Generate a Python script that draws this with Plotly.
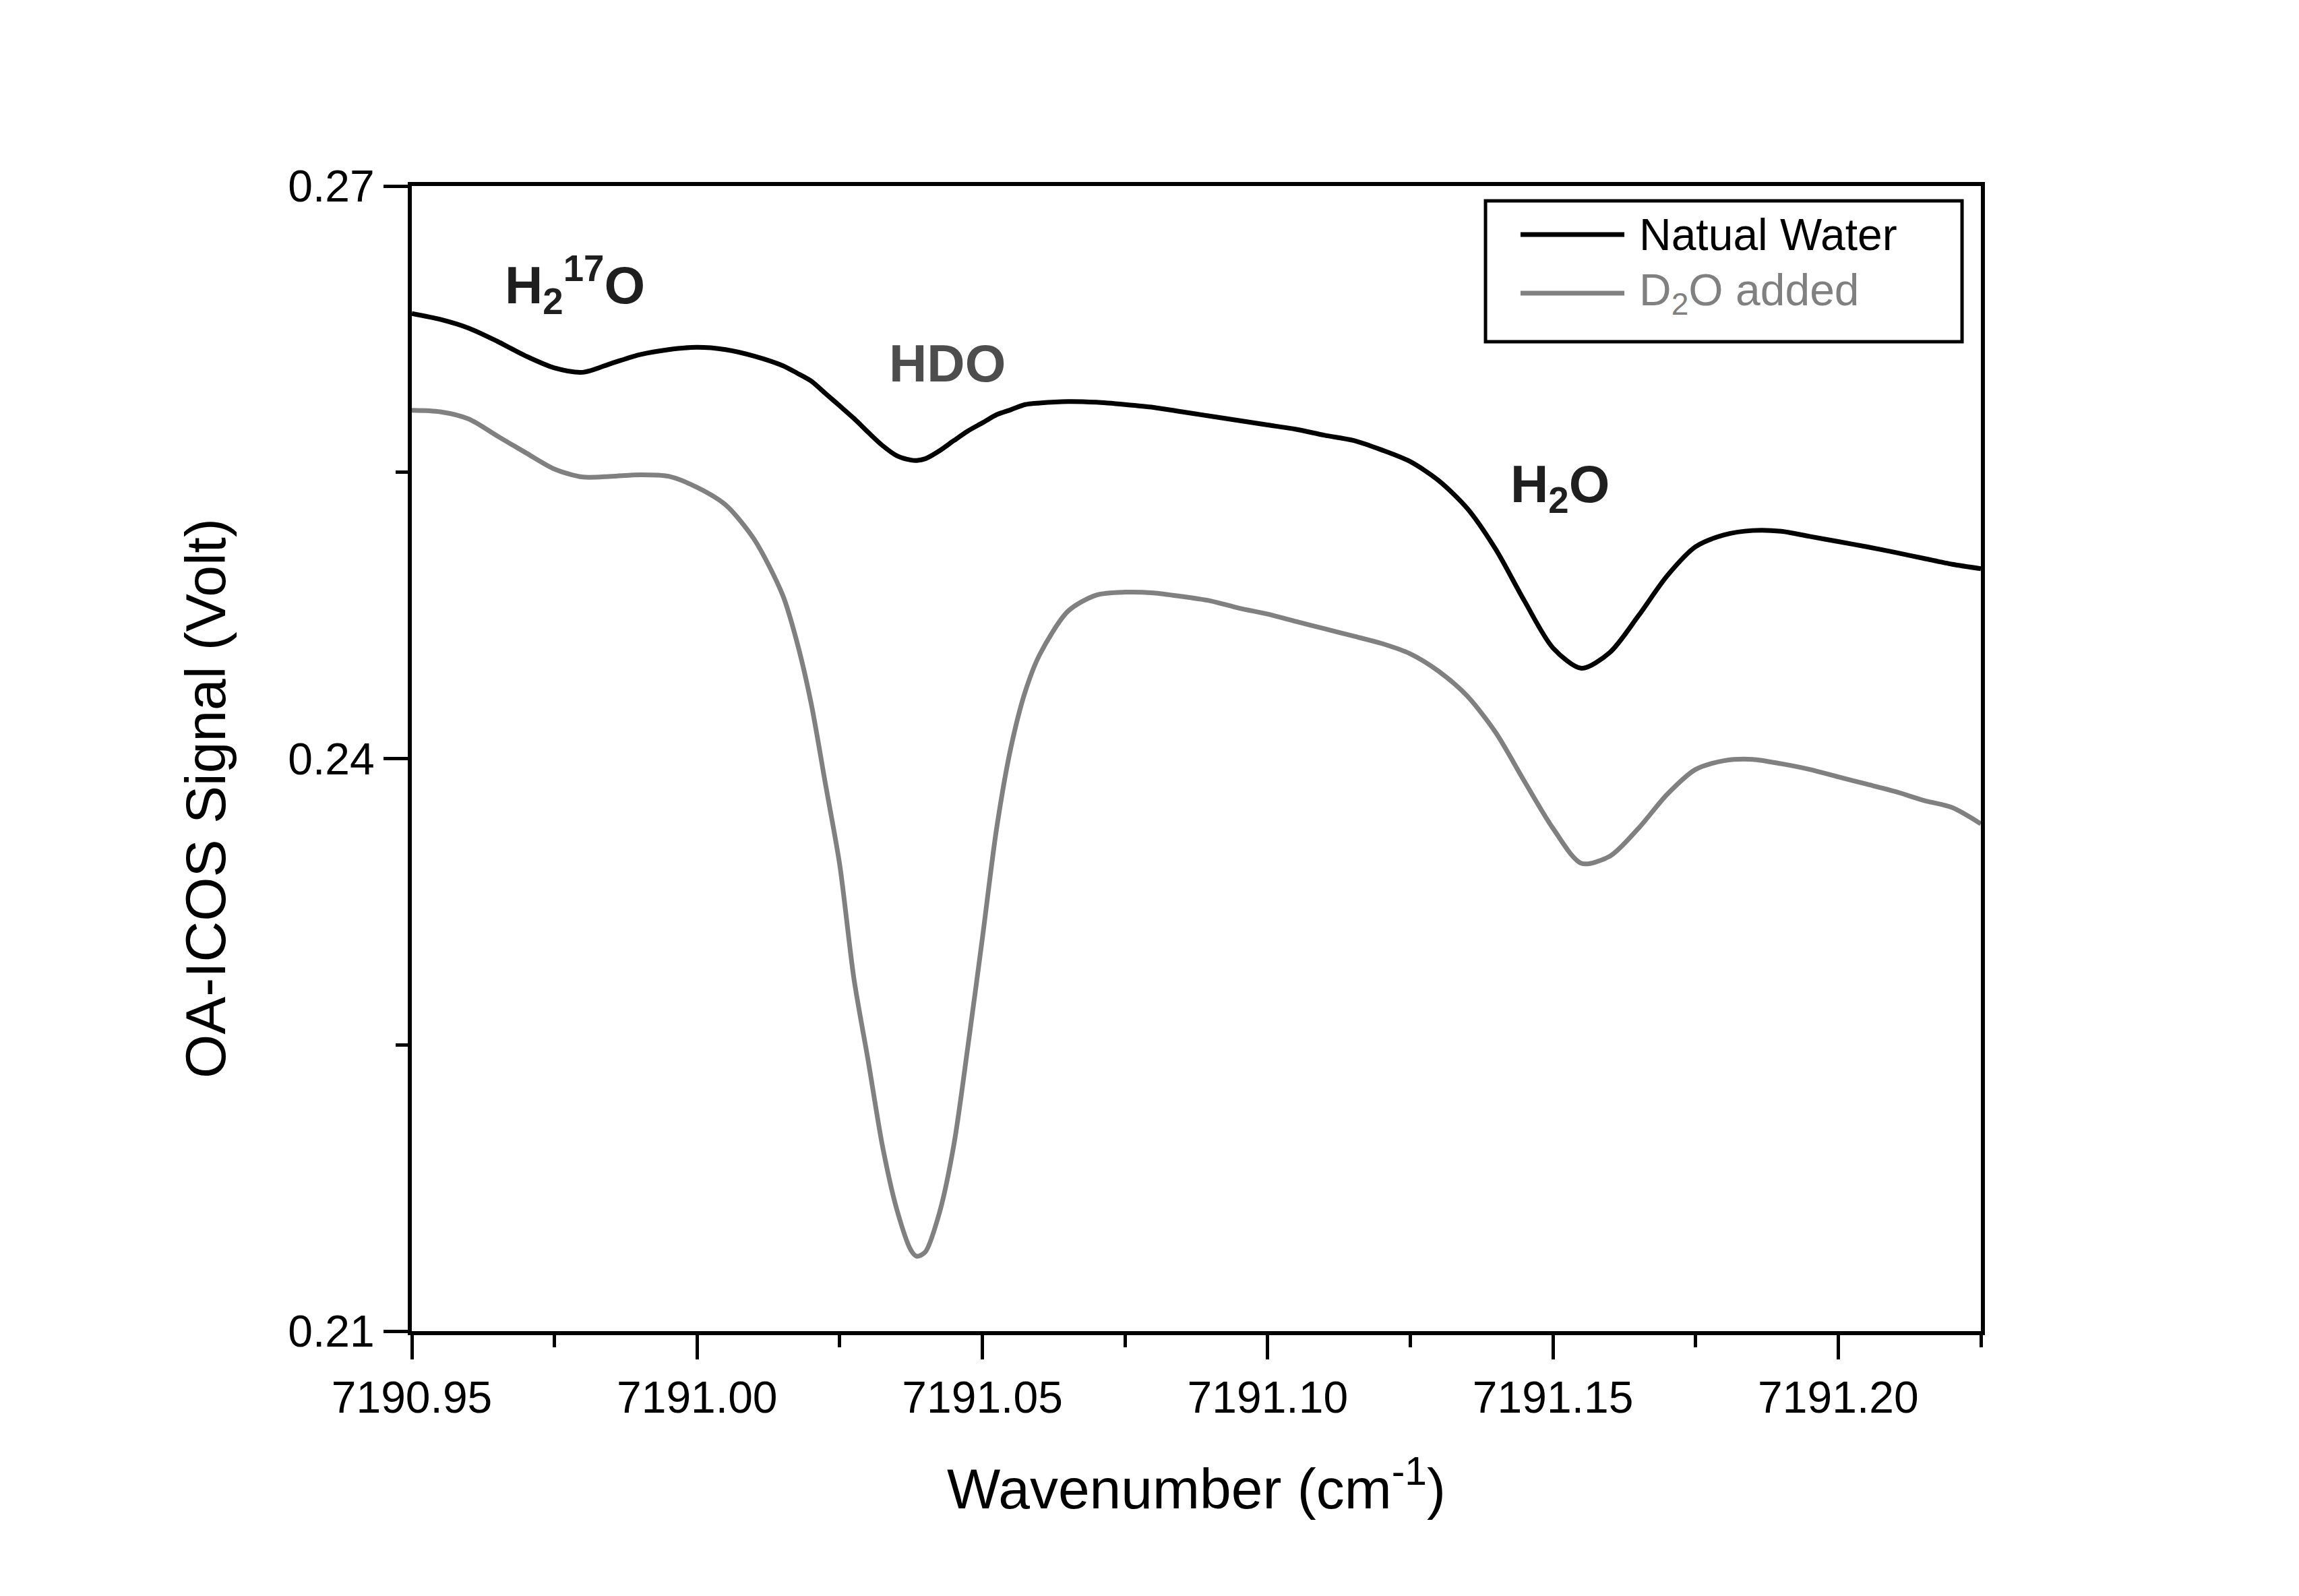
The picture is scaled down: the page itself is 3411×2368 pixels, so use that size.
import plotly.graph_objects as go

# Wavenumber grid (cm^-1)
wavenumber = [
    7190.950, 7190.955, 7190.960, 7190.965, 7190.970, 7190.975, 7190.980, 7190.985,
    7190.990, 7190.995, 7191.000, 7191.005, 7191.010, 7191.015, 7191.0175, 7191.020,
    7191.0225, 7191.025, 7191.0275, 7191.030, 7191.0325, 7191.035, 7191.0375, 7191.0385,
    7191.040, 7191.0425, 7191.045, 7191.0475, 7191.050, 7191.0525, 7191.055, 7191.0575,
    7191.060, 7191.065, 7191.070, 7191.075, 7191.080, 7191.085, 7191.090, 7191.095,
    7191.100, 7191.105, 7191.110, 7191.115, 7191.120, 7191.125, 7191.130, 7191.135,
    7191.140, 7191.145, 7191.150, 7191.155, 7191.160, 7191.165, 7191.170, 7191.175,
    7191.180, 7191.185, 7191.190, 7191.195, 7191.200, 7191.205, 7191.210, 7191.215,
    7191.220, 7191.225,
]

# Natural water signal (Volt)
natural_water = [
    0.26332, 0.26301, 0.26255, 0.26186, 0.26109, 0.26047, 0.26024, 0.26071,
    0.26117, 0.26143, 0.26155, 0.26143, 0.26109, 0.26059, 0.26020, 0.25978,
    0.25913, 0.25848, 0.25782, 0.25709, 0.25640, 0.25587, 0.25564, 0.25562,
    0.25571, 0.25613, 0.25666, 0.25717, 0.25759, 0.25802, 0.25828, 0.25855,
    0.25863, 0.25871, 0.25867, 0.25855, 0.25840, 0.25817, 0.25794, 0.25771,
    0.25748, 0.25725, 0.25694, 0.25667, 0.25617, 0.25556, 0.25456, 0.25310,
    0.25095, 0.24826, 0.24580, 0.24473, 0.24557, 0.24749, 0.24957, 0.25110,
    0.25172, 0.25195, 0.25191, 0.25164, 0.25137, 0.25110, 0.25080, 0.25049,
    0.25018, 0.24995,
]

# D2O added signal (Volt)
d2o_added = [
    0.25825, 0.25817, 0.25779, 0.25690, 0.25602, 0.25517, 0.25475, 0.25479,
    0.25487, 0.25479, 0.25421, 0.25329, 0.25149, 0.24857, 0.24611, 0.24288,
    0.23866, 0.23443, 0.22844, 0.22414, 0.21968, 0.21638, 0.21423, 0.21392,
    0.21415, 0.21623, 0.21976, 0.22500, 0.23059, 0.23635, 0.24058, 0.24350,
    0.24542, 0.24772, 0.24857, 0.24872, 0.24868, 0.24849, 0.24826, 0.24788,
    0.24757, 0.24718, 0.24680, 0.24642, 0.24603, 0.24549, 0.24457, 0.24327,
    0.24135, 0.23881, 0.23635, 0.23451, 0.23489, 0.23635, 0.23812, 0.23943,
    0.23989, 0.23996, 0.23973, 0.23943, 0.23904, 0.23866, 0.23827, 0.23781,
    0.23743, 0.23658,
]

series_names = ["Natual Water", "D<sub>2</sub>O added"]
series_colors = ["#000000", "#808080"]

peak_labels = ["H<sub>2</sub><sup>17</sup>O", "HDO", "H<sub>2</sub>O"]
peak_x = [7190.9786, 7191.0438, 7191.1512]
peak_y = [0.2648, 0.2607, 0.2542]
peak_colors = ["#1f1f1f", "#4d4d4d", "#1f1f1f"]

FONT = "Liberation Sans, Arial, sans-serif"

fig = go.Figure()
fig.add_trace(go.Scatter(x=wavenumber, y=natural_water, mode="lines",
                         name="Natual Water", showlegend=False,
                         line=dict(color=series_colors[0], width=7,
                                   shape="spline", smoothing=0.8)))
fig.add_trace(go.Scatter(x=wavenumber, y=d2o_added, mode="lines",
                         name="D2O added", showlegend=False,
                         line=dict(color=series_colors[1], width=7,
                                   shape="spline", smoothing=0.8)))

for lab, px, py, c in zip(peak_labels, peak_x, peak_y, peak_colors):
    fig.add_annotation(x=px, y=py, xref="x", yref="y", text="<b>" + lab + "</b>",
                       showarrow=False, font=dict(family=FONT, size=78, color=c),
                       xanchor="center", yanchor="middle")

# Legend box (drawn manually to match long line samples)
fig.add_shape(type="rect", xref="paper", yref="paper", x0=0.6843, x1=0.9880,
              y0=0.8640, y1=0.9871, line=dict(color="black", width=5),
              fillcolor="white", layer="above")
leg_y = [0.9576, 0.9064]
for name, color, ly in zip(series_names, series_colors, leg_y):
    fig.add_shape(type="line", xref="paper", yref="paper", x0=0.7066, x1=0.7728,
                  y0=ly, y1=ly, line=dict(color=color, width=7), layer="above")
    fig.add_annotation(x=0.7813, y=ly, xref="paper", yref="paper", text=name,
                       showarrow=False, xanchor="left", yanchor="middle",
                       font=dict(family=FONT, size=66, color=color))

# Y axis title (placed as rotated text, slightly below axis centre as in reference)
fig.add_annotation(x=-0.1314, y=0.465, xref="paper", yref="paper",
                   text="OA-ICOS Signal (Volt)", textangle=-90, showarrow=False,
                   xanchor="center", yanchor="middle",
                   font=dict(family=FONT, size=84, color="black"))

axis_common = dict(showline=True, linewidth=6, linecolor="black", mirror=True,
                   ticks="outside", ticklen=36, tickwidth=5, tickcolor="black",
                   showgrid=False, zeroline=False,
                   tickfont=dict(family=FONT, size=66, color="black"))

fig.update_xaxes(range=[7190.95, 7191.225], dtick=0.05, tick0=7190.95,
                 tickformat=".2f", ticklabelstandoff=0,
                 minor=dict(dtick=0.025, ticks="outside", ticklen=18, tickwidth=5,
                            tickcolor="black", showgrid=False),
                 title=dict(text="Wavenumber (cm<sup>-1</sup>)", standoff=72,
                            font=dict(family=FONT, size=84, color="black")),
                 **axis_common)
fig.update_yaxes(range=[0.21, 0.27], dtick=0.03, tick0=0.21,
                 tickformat=".2f", ticklabelstandoff=0,
                 minor=dict(dtick=0.015, ticks="outside", ticklen=18, tickwidth=5,
                            tickcolor="black", showgrid=False),
                 **axis_common)

fig.update_layout(width=3411, height=2368, autosize=False,
                  margin=dict(l=611, r=472, t=276, b=393, pad=0),
                  paper_bgcolor="white", plot_bgcolor="white",
                  font=dict(family=FONT, color="black"), showlegend=False)

fig.write_html("out.html")
